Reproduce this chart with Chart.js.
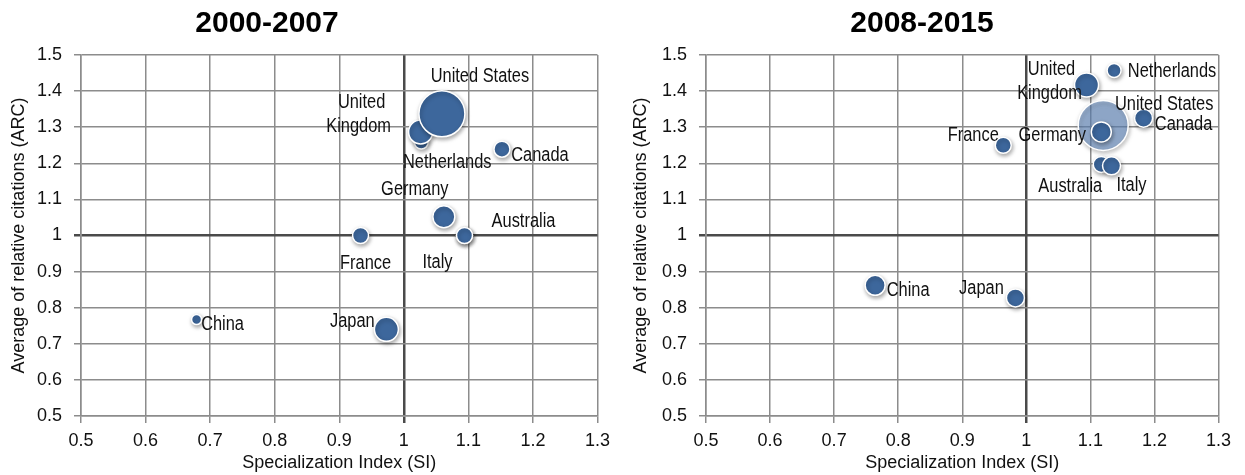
<!DOCTYPE html>
<html>
<head>
<meta charset="utf-8">
<script src="https://cdn.jsdelivr.net/npm/chart.js@4.4.0/dist/chart.umd.min.js"></script>
<style>
  body { margin: 0; background: #fff; }
  #wrap { position: relative; width: 1245px; height: 475px; }
  canvas { position: absolute; top: 0; }
</style>
</head>
<body>
<div id="wrap">
  <canvas id="c1" width="622" height="475" style="left:0"></canvas>
  <canvas id="c2" width="623" height="475" style="left:622px"></canvas>
</div>
<script>
// 2000-2007 (drawing order: back to front)
const names1 = ['Netherlands', 'United Kingdom', 'United States', 'Canada', 'Germany', 'Australia', 'Italy', 'France', 'China', 'Japan'];
const si1 = [1.027, 1.026, 1.059, 1.152, 1.062, 1.094, 1.094, 0.933, 0.679, 0.973];
const arc1 = [1.259, 1.287, 1.337, 1.239, 1.052, 1.0, 1.0, 1.0, 0.767, 0.740];
const size1 = [7, 12, 23, 8, 11, 8, 8, 8, 5, 12];

// 2008-2015
const names2 = ['United States', 'Germany', 'United Kingdom', 'Netherlands', 'Canada', 'France', 'Australia', 'Italy', 'China', 'Japan'];
const si2 = [1.120, 1.117, 1.094, 1.137, 1.183, 0.964, 1.117, 1.133, 0.764, 0.983];
const arc2 = [1.305, 1.287, 1.417, 1.457, 1.325, 1.250, 1.197, 1.193, 0.862, 0.827];
const size2 = [25, 10, 12, 7, 9, 8, 8, 9, 10, 9];

const FONT = "'Liberation Sans', Arial, sans-serif";

// label offsets from bubble centre (px), text centred
const labels1 = {
  'United States': [['United States', 38, -37]],
  'United Kingdom': [['United', -59, -29], ['Kingdom', -62, -5]],
  'Netherlands': [['Netherlands', 26, 20]],
  'Canada': [['Canada', 38, 6]],
  'Germany': [['Germany', -29, -27]],
  'Australia': [['Australia', 59, -14]],
  'Italy': [['Italy', -27, 27]],
  'France': [['France', 5, 28]],
  'China': [['China', 26, 5]],
  'Japan': [['Japan', -34, -8]]
};
const labels2 = {
  'United States': [['United States', 61, -21]],
  'United Kingdom': [['United', -35, -15], ['Kingdom', -37, 9]],
  'Netherlands': [['Netherlands', 58, 1]],
  'Canada': [['Canada', 40, 6]],
  'Germany': [['Germany', -49, 4]],
  'France': [['France', -30, -10]],
  'Australia': [['Australia', -31, 22]],
  'Italy': [['Italy', 20, 20]],
  'China': [['China', 33, 5]],
  'Japan': [['Japan', -34, -9]]
};

const bubbleShadow = {
  id: 'bubbleShadow',
  beforeDatasetsDraw(chart) {
    const c = chart.ctx;
    c.save();
    c.shadowColor = 'rgba(0,0,0,0.35)';
    c.shadowBlur = 4;
    c.shadowOffsetX = 1;
    c.shadowOffsetY = 2;
  },
  afterDatasetsDraw(chart) {
    chart.ctx.restore();
  }
};

const pointLabels = {
  id: 'pointLabels',
  afterDraw(chart, args, opts) {
    const c = chart.ctx;
    const meta = chart.getDatasetMeta(0);
    c.save();
    c.font = '20px ' + FONT;
    c.fillStyle = '#111';
    c.textAlign = 'center';
    c.textBaseline = 'middle';
    opts.names.forEach((n, i) => {
      const pt = meta.data[i];
      (opts.pos[n] || []).forEach(l => {
        // squeeze horizontally to look like a narrow face
        c.save();
        c.translate(pt.x + l[1], pt.y + l[2]);
        c.scale(0.82, 1);
        c.fillText(l[0], 0, 0);
        c.restore();
      });
    });
    // heading
    c.font = 'bold 30px ' + FONT;
    c.fillStyle = '#000';
    c.fillText(opts.title, opts.titleX, 24);
    c.restore();
  }
};

function isOne(ctx) {
  return ctx.tick && Math.abs(ctx.tick.value - 1) < 1e-6;
}

function makeChart(id, title, titleX, names, si, arc, size, pos, yWidth, padRight) {
  new Chart(document.getElementById(id), {
    type: 'bubble',
    data: {
      datasets: [{
        data: si.map((x, i) => ({ x: x, y: arc[i], r: size[i] })),
        backgroundColor: names.map(n => (id === 'c2' && n === 'United States') ? 'rgba(100,140,195,0.6)' : '#3d679c'),
        borderColor: '#fff',
        borderWidth: 1.5
      }]
    },
    options: {
      responsive: false,
      animation: false,
      layout: { padding: { top: 55, right: padRight, left: 4, bottom: 0 } },
      plugins: {
        legend: { display: false },
        tooltip: { enabled: false },
        pointLabels: { names: names, pos: pos, title: title, titleX: titleX }
      },
      scales: {
        x: {
          min: 0.5, max: 1.3,
          afterFit: s => { s.height = 59; },
          ticks: { stepSize: 0.1, color: '#111', font: { size: 18, family: FONT }, padding: 7,
                   callback: v => String(+v.toFixed(1)) },
          grid: {
            color: ctx => isOne(ctx) ? '#4a4a4a' : '#8c8c8c',
            lineWidth: ctx => isOne(ctx) ? 2.5 : 1.5,
            tickLength: 7
          },
          border: { color: '#8c8c8c', width: 1.5 },
          title: { display: true, text: 'Specialization Index (SI)', color: '#111',
                   font: { size: 18, family: FONT }, padding: { top: 0, bottom: 1 } }
        },
        y: {
          min: 0.5, max: 1.5,
          afterFit: s => { s.width = yWidth; },
          ticks: { stepSize: 0.1, color: '#111', font: { size: 18, family: FONT }, padding: 12,
                   callback: v => String(+v.toFixed(1)) },
          grid: {
            color: ctx => isOne(ctx) ? '#4a4a4a' : '#8c8c8c',
            lineWidth: ctx => isOne(ctx) ? 2.5 : 1.5,
            tickLength: 7
          },
          border: { color: '#8c8c8c', width: 1.5 },
          title: { display: true, text: 'Average of relative citations (ARC)', color: '#111',
                   font: { size: 18, family: FONT }, padding: { top: 4, bottom: 4 } }
        }
      }
    },
    plugins: [bubbleShadow, pointLabels]
  });
}

makeChart('c1', '2000-2007', 267, names1, si1, arc1, size1, labels1, 77, 19);
makeChart('c2', '2008-2015', 300, names2, si2, arc2, size2, labels2, 80, 19);
</script>
</body>
</html>
